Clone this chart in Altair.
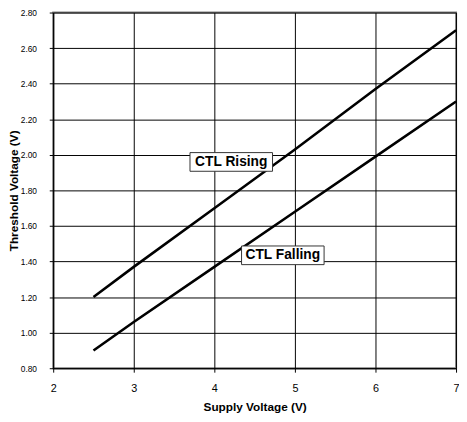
import altair as alt
import pandas as pd

# Data
supply = [2.5, 3.0, 4.0, 5.0, 6.0, 7.0]
rising = [1.20, 1.37, 1.70, 2.03, 2.37, 2.70]
falling = [0.90, 1.06, 1.37, 1.68, 1.99, 2.30]

label_text = ["CTL Rising", "CTL Falling"]
label_x = [4.21, 4.85]
label_y = [1.96, 1.435]

x_ticks = [2, 3, 4, 5, 6, 7]
y_ticks = [0.8, 1.0, 1.2, 1.4, 1.6, 1.8, 2.0, 2.2, 2.4, 2.6, 2.8]

FONT = "Liberation Sans"

df = pd.DataFrame({
    "supply": supply * 2,
    "threshold": rising + falling,
    "series": ["CTL Rising"] * len(supply) + ["CTL Falling"] * len(supply),
})
lab = pd.DataFrame({"text": label_text, "x": label_x, "y": label_y})

xs = alt.Scale(domain=[2, 7], nice=False, zero=False)
ys = alt.Scale(domain=[0.8, 2.8], nice=False, zero=False)

xaxis = alt.Axis(title="Supply Voltage (V)", values=x_ticks, format="d",
                 grid=True, gridColor="black", gridWidth=1, gridOpacity=1,
                 domainColor="black", tickColor="black", tickSize=4,
                 labelFont=FONT, labelFontSize=11, labelColor="black",
                 labelPadding=11, labelOverlap=False, labelFlush=False,
                 titleFont=FONT, titleFontSize=12, titleFontWeight="bold",
                 titleColor="black", titlePadding=8)
yaxis = alt.Axis(title="Threshold Voltage (V)", values=y_ticks, format=".2f",
                 grid=True, gridColor="black", gridWidth=1, gridOpacity=1,
                 domainColor="black", tickColor="black", tickSize=4,
                 labelFont=FONT, labelFontSize=8.5, labelColor="black",
                 labelPadding=13, labelOverlap=False, labelFlush=False,
                 titleFont=FONT, titleFontSize=12, titleFontWeight="bold",
                 titleColor="black", titlePadding=0)

lines = alt.Chart(df).mark_line(color="black", strokeWidth=2.6, strokeCap="butt").encode(
    x=alt.X("supply:Q", scale=xs, axis=xaxis, title="Supply Voltage (V)"),
    y=alt.Y("threshold:Q", scale=ys, axis=yaxis, title="Threshold Voltage (V)"),
    detail="series:N",
)

boxes = alt.Chart(lab).mark_rect(fill="white", stroke="#333333", strokeWidth=1,
                                  width=84, height=19).encode(
    x=alt.X("x:Q", scale=xs, axis=xaxis, title="Supply Voltage (V)"),
    y=alt.Y("y:Q", scale=ys, axis=yaxis, title="Threshold Voltage (V)"),
)

texts = alt.Chart(lab).mark_text(font=FONT, fontSize=14, fontWeight="bold",
                                 color="black", align="center", baseline="middle").encode(
    x=alt.X("x:Q", scale=xs, axis=xaxis, title="Supply Voltage (V)"),
    y=alt.Y("y:Q", scale=ys, axis=yaxis, title="Threshold Voltage (V)"),
    text="text:N",
)

chart = (lines + boxes + texts).properties(
    width=410, height=362,
    autosize=alt.AutoSizeParams(type="none"),
    padding={"left": 46, "top": 1, "right": 3, "bottom": 46},
    background="white",
).configure_view(stroke="#808080", strokeWidth=2)

chart.save("out.html", embed_options={"renderer": "svg", "actions": False})
